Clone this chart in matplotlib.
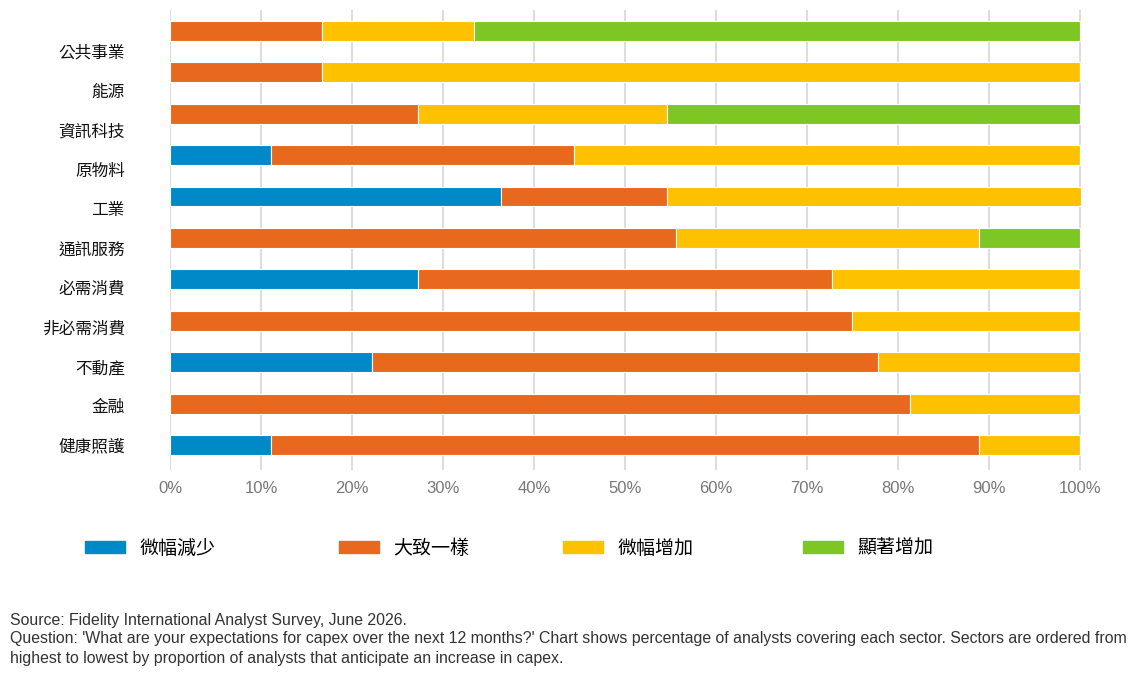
import matplotlib
matplotlib.use("Agg")
import matplotlib.pyplot as plt
import matplotlib.transforms as mtransforms
import numpy as np
from matplotlib.patches import Patch

plt.rcParams['font.family'] = ['Noto Sans CJK TC', 'DejaVu Sans']

sectors = ["公共事業", "能源", "資訊科技", "原物料", "工業", "通訊服務",
           "必需消費", "非必需消費", "不動產", "金融", "健康照護"]
series_names = ["微幅減少", "大致一樣", "微幅增加", "顯著增加"]
decrease_slight = [0, 0, 0, 11.1, 36.4, 0, 27.3, 0, 22.2, 0, 11.1]
about_same = [16.7, 16.7, 27.3, 33.3, 18.2, 55.6, 45.5, 75.0, 55.6, 81.3, 77.8]
increase_slight = [16.7, 83.3, 27.3, 55.6, 45.5, 33.3, 27.2, 25.0, 22.2, 18.7, 11.1]
increase_sig = [66.6, 0, 45.4, 0, 0, 11.1, 0, 0, 0, 0, 0]
xticks = [0, 10, 20, 30, 40, 50, 60, 70, 80, 90, 100]
xtick_labels = ["0%", "10%", "20%", "30%", "40%", "50%", "60%", "70%", "80%", "90%", "100%"]

colors = ["#0089C8", "#E8681D", "#FDC100", "#7DC623"]

fig = plt.figure(figsize=(11.37, 6.79), dpi=100)
ax = fig.add_axes([170/1137, 1 - 470/679, 912/1137, 460/679])

y = np.arange(len(sectors))
left = np.zeros(len(sectors))
for name, vals, c in zip(series_names, [decrease_slight, about_same, increase_slight, increase_sig], colors):
    vals = np.array(vals, dtype=float)
    ax.barh(y, vals, left=left, height=0.48, color=c, edgecolor="white",
            linewidth=0.8, label=name, zorder=3)
    left += vals

ax.set_xlim(0, 100.22)
ax.set_ylim(10.6, -0.5)
ax.set_xticks(xticks)
ax.set_xticklabels(xtick_labels, family=['Liberation Sans', 'DejaVu Sans'],
                   fontsize=12, color="#777777")
# last tick label sits slightly inside the plot edge
last = ax.get_xticklabels()[-1]
last.set_transform(last.get_transform() + mtransforms.ScaledTranslation(-8/100, 0, fig.dpi_scale_trans))
label_pos = 0.5 + np.arange(len(sectors)) * 0.95
ax.set_yticks(label_pos)
ax.set_yticklabels(sectors, fontsize=12, color="#111111")
ax.tick_params(axis='both', length=0)
ax.tick_params(axis='x', pad=8)
ax.tick_params(axis='y', pad=32.5)
for s in ax.spines.values():
    s.set_visible(False)
ax.grid(axis='x', color="#DDDDDD", linewidth=1.5, zorder=0)
ax.set_axisbelow(True)

# legend, one entry per series at its own position
leg_x = [85, 339, 563, 803]
for name, c, lx in zip(series_names, colors, leg_x):
    lg = fig.legend(handles=[Patch(facecolor=c, edgecolor=c)], labels=[name],
                    loc="center left", bbox_to_anchor=(lx/1137, 1 - 548/679),
                    frameon=False, fontsize=13.7, handlelength=2.1, handleheight=0.63,
                    handletextpad=0.74, borderpad=0, borderaxespad=0)

foot = ["Source: Fidelity International Analyst Survey, June 2026.",
        "Question: 'What are your expectations for capex over the next 12 months?' Chart shows percentage of analysts covering each sector. Sectors are ordered from",
        "highest to lowest by proportion of analysts that anticipate an increase in capex."]
for i, line in enumerate(foot):
    fig.text(10/1137, 1 - (620 + i*19)/679, line, fontsize=11.45,
             family=['Liberation Sans', 'DejaVu Sans'], color="#333333", va="center")

fig.savefig("out.png", dpi=100)
